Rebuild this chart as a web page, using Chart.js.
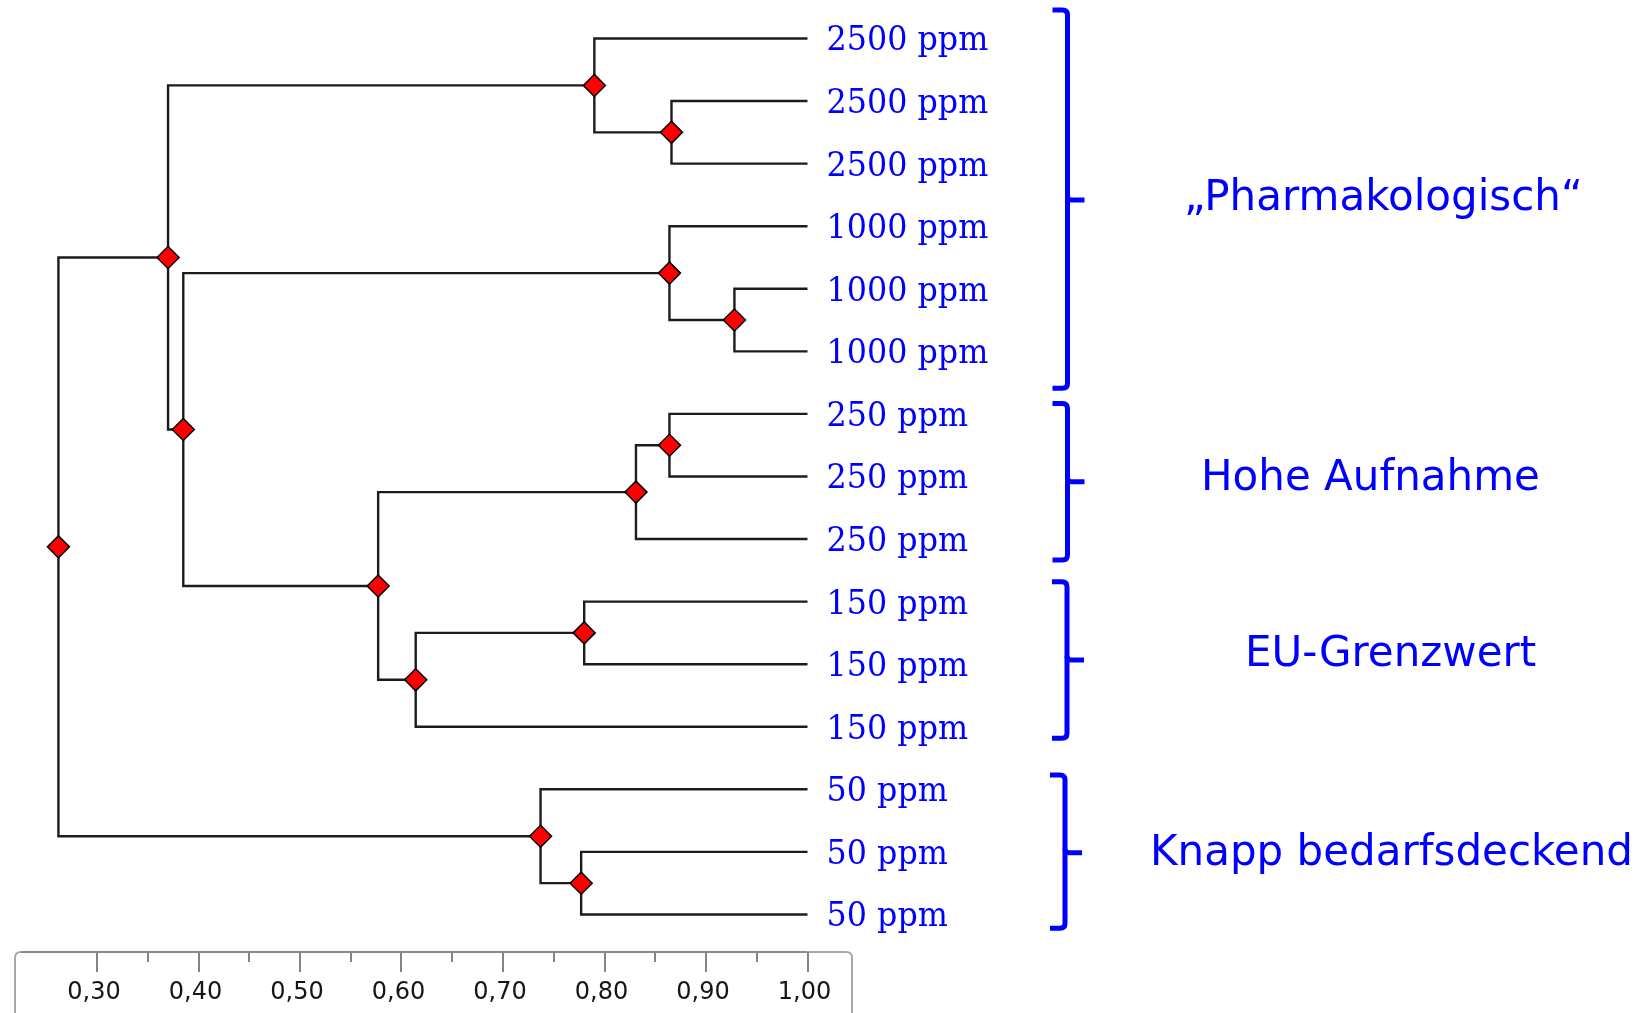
<!DOCTYPE html>
<html>
<head>
<meta charset="utf-8">
<script src="https://cdn.jsdelivr.net/npm/chart.js@4/dist/chart.umd.min.js"></script>
<style>
html,body{margin:0;padding:0;background:#ffffff;overflow:hidden}
canvas{display:block}
</style>
</head>
<body>
<canvas id="c" width="1646" height="1013"></canvas>
<script>
// ---------- data ----------
const leafLabels = ['2500 ppm','2500 ppm','2500 ppm','1000 ppm','1000 ppm','1000 ppm',
                    '250 ppm','250 ppm','250 ppm','150 ppm','150 ppm','150 ppm',
                    '50 ppm','50 ppm','50 ppm'];
const leafSimilarity = 1.00;
// internal node k gets id = leafLabels.length + k
const mergeLeft       = [1, 0,  4, 3,  6, 19, 9, 21, 20, 18, 16, 13, 12, 25];
const mergeRight      = [2, 15, 5, 17, 7, 8, 10, 11, 22, 23, 24, 14, 26, 27];
const mergeSimilarity = [0.866, 0.790, 0.928, 0.864, 0.864, 0.831, 0.780, 0.614, 0.577, 0.385, 0.370, 0.777, 0.737, 0.262];

const groupNames     = ['\u201EPharmakologisch\u201C', 'Hohe Aufnahme', 'EU-Grenzwert', 'Knapp bedarfsdeckend'];
const groupFirstLeaf = [0, 6, 9, 12];
const groupLastLeaf  = [5, 8, 11, 14];

const majorTicks      = [0.30, 0.40, 0.50, 0.60, 0.70, 0.80, 0.90, 1.00];
const majorTickLabels = ['0,30','0,40','0,50','0,60','0,70','0,80','0,90','1,00'];
const minorTicks      = [0.35, 0.45, 0.55, 0.65, 0.75, 0.85, 0.95];

// ---------- build dendrogram geometry from the tree ----------
const nLeaves = leafLabels.length;
const nodeH = [], nodeY = [];
for (let i = 0; i < nLeaves; i++) { nodeH[i] = leafSimilarity; nodeY[i] = i; }
const lineDatasets = [];
const markerPoints = [];
mergeLeft.forEach((a, k) => {
  const b = mergeRight[k];
  const id = nLeaves + k;
  const h = mergeSimilarity[k];
  nodeH[id] = h;
  nodeY[id] = (nodeY[a] + nodeY[b]) / 2;
  lineDatasets.push({
    type: 'scatter',
    showLine: true,
    data: [{x: nodeH[a], y: nodeY[a]}, {x: h, y: nodeY[a]}, {x: h, y: nodeY[b]}, {x: nodeH[b], y: nodeY[b]}],
    borderColor: '#1c1c1c',
    borderWidth: 2.4,
    pointRadius: 0,
    tension: 0,
    clip: false,
    order: 2
  });
  markerPoints.push({x: h, y: nodeY[id]});
});

const markerDataset = {
  type: 'scatter',
  data: markerPoints,
  pointStyle: 'rectRot',
  pointRadius: 11,
  backgroundColor: '#ff0000',
  borderColor: '#000000',
  borderWidth: 1.5,
  clip: false,
  order: 0
};

// ---------- annotation plugin ----------
const annot = {
  id: 'annot',
  afterDraw(chart) {
    const ctx = chart.ctx;
    const xs = chart.scales.x, ys = chart.scales.y;
    ctx.save();

    // leaf labels
    ctx.fillStyle = '#0000ff';
    ctx.font = '34px "DejaVu Serif"';
    ctx.textAlign = 'left';
    ctx.textBaseline = 'alphabetic';
    const lx = xs.getPixelForValue(leafSimilarity) + 19;
    leafLabels.forEach((t, i) => {
      const y = ys.getPixelForValue(i) + 12;
      ctx.save();
      ctx.translate(lx, y);
      ctx.scale(0.935, 1);
      ctx.fillText(t, 0, 0);
      ctx.restore();
    });

    // brackets + group names
    const bracketLayout = [
      {x: 1067.5, top: 10,    mid: 200,   bot: 388.3, tx: 1184, ty: 210},
      {x: 1067.5, top: 403.5, mid: 481.7, bot: 560,   tx: 1201, ty: 490},
      {x: 1067,   top: 581.7, mid: 660,   bot: 738.3, tx: 1245, ty: 666},
      {x: 1065,   top: 775,   mid: 852.7, bot: 928.3, tx: 1150, ty: 864.5}
    ];
    ctx.strokeStyle = '#0000ff';
    ctx.lineWidth = 5;
    ctx.lineJoin = 'round';
    groupNames.forEach((name, g) => {
      const L = bracketLayout[g];
      const x = L.x;
      ctx.beginPath();
      ctx.moveTo(x - 15, L.top);
      ctx.lineTo(x - 5, L.top);
      ctx.quadraticCurveTo(x, L.top, x, L.top + 5);
      ctx.lineTo(x, L.bot - 5);
      ctx.quadraticCurveTo(x, L.bot, x - 5, L.bot);
      ctx.lineTo(x - 15, L.bot);
      ctx.stroke();
      ctx.beginPath();
      ctx.moveTo(x, L.mid - 4);
      ctx.quadraticCurveTo(x, L.mid, x + 4, L.mid);
      ctx.lineTo(x + 17, L.mid);
      ctx.stroke();
      ctx.font = '42px "DejaVu Sans"';
      ctx.fillStyle = '#0000ff';
      ctx.textAlign = 'left';
      ctx.fillText(name, L.tx, L.ty);
    });

    // bottom axis box
    const top = 952;
    const x0 = 15, x1 = 852;
    const xr = xs.getPixelForValue(1.0);
    ctx.lineWidth = 2;
    ctx.strokeStyle = '#a8a8a8';
    ctx.beginPath();
    ctx.moveTo(x0, 1013);
    ctx.lineTo(x0, top + 6);
    ctx.quadraticCurveTo(x0, top, x0 + 6, top);
    ctx.stroke();
    ctx.beginPath();
    ctx.moveTo(xr, top);
    ctx.lineTo(x1 - 6, top);
    ctx.quadraticCurveTo(x1, top, x1, top + 6);
    ctx.lineTo(x1, 1013);
    ctx.stroke();
    ctx.strokeStyle = '#8a8a8a';
    ctx.beginPath();
    ctx.moveTo(x0 + 6, top);
    ctx.lineTo(xr, top);
    ctx.stroke();

    ctx.strokeStyle = '#858585';
    majorTicks.forEach(v => {
      const px = Math.round(xs.getPixelForValue(v));
      ctx.beginPath(); ctx.moveTo(px, top); ctx.lineTo(px, top + 20); ctx.stroke();
    });
    minorTicks.forEach(v => {
      const px = Math.round(xs.getPixelForValue(v));
      ctx.beginPath(); ctx.moveTo(px, top); ctx.lineTo(px, top + 10); ctx.stroke();
    });
    ctx.fillStyle = '#151515';
    ctx.font = '24px "DejaVu Sans"';
    ctx.textAlign = 'center';
    majorTicks.forEach((v, i) => {
      ctx.fillText(majorTickLabels[i], xs.getPixelForValue(v) - 3, 998.5);
    });

    ctx.restore();
  }
};

new Chart(document.getElementById('c'), {
  type: 'scatter',
  data: { datasets: [markerDataset].concat(lineDatasets) },
  options: {
    responsive: false,
    animation: false,
    devicePixelRatio: 1,
    layout: { autoPadding: false, padding: { left: 46.25, right: 838.5, top: 7.2, bottom: 61 } },
    plugins: { legend: { display: false }, tooltip: { enabled: false } },
    scales: {
      x: { type: 'linear', min: 0.25, max: 1.0, display: false },
      y: { type: 'linear', min: -0.5, max: 14.6, reverse: true, display: false }
    }
  },
  plugins: [annot]
});
</script>
</body>
</html>
